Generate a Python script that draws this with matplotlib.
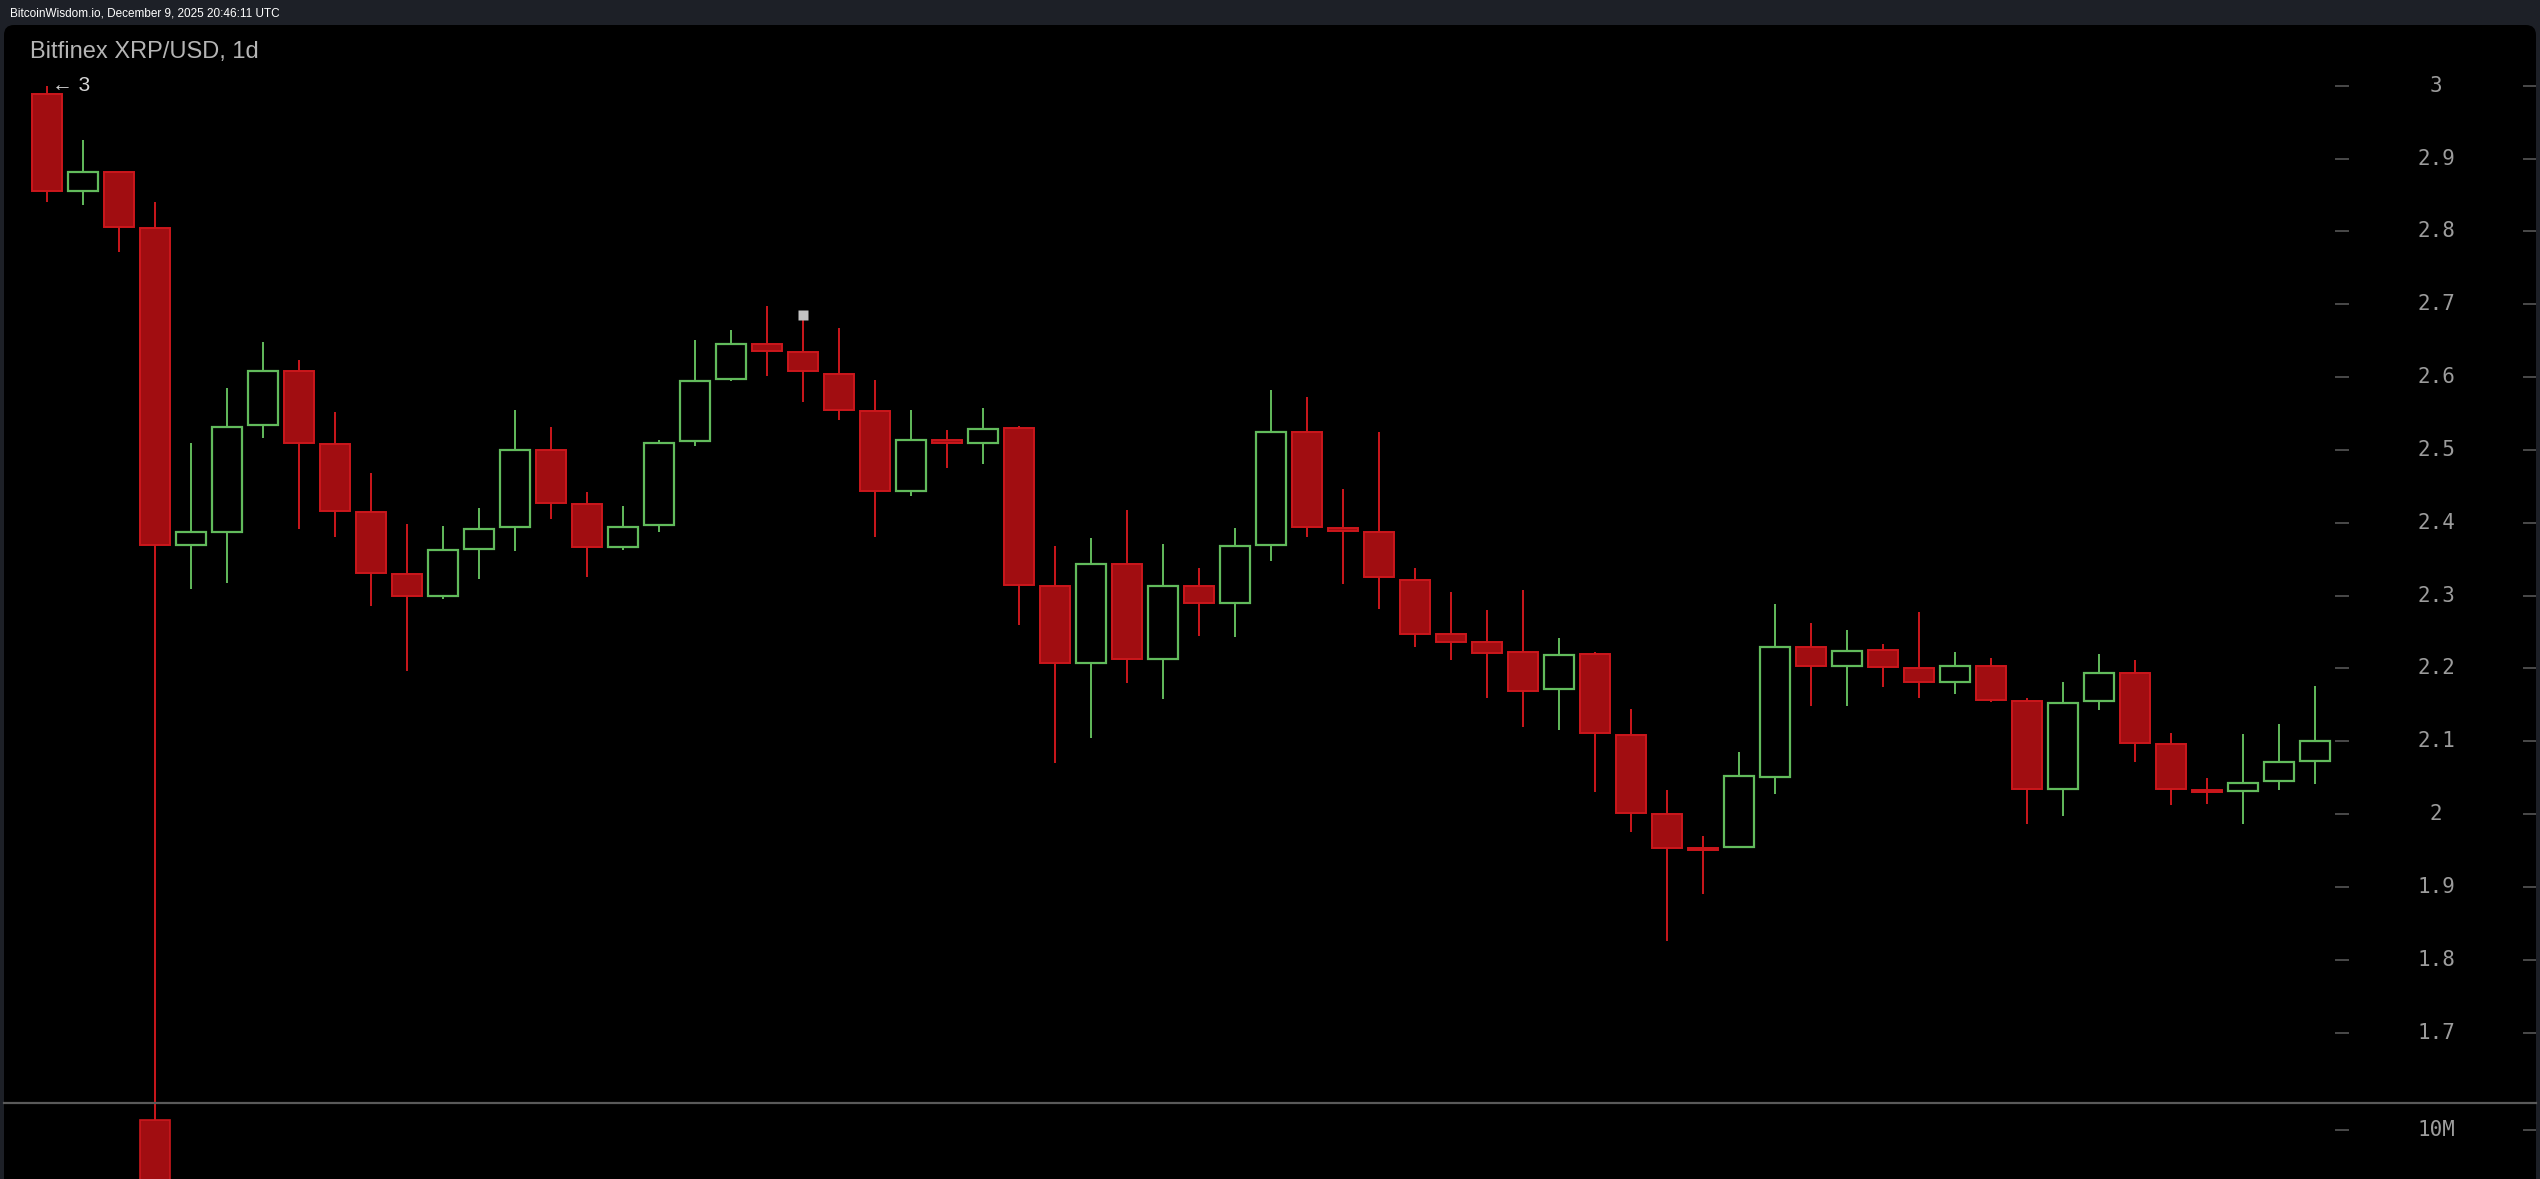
import numpy as np
import matplotlib
matplotlib.use("Agg")
import matplotlib.pyplot as plt
from matplotlib.patches import FancyBboxPatch
from matplotlib.lines import Line2D
from matplotlib.transforms import IdentityTransform, blended_transform_factory

# daily XRP/USD candles, Oct 7 - Dec 9 2025
opens = [2.988, 2.855, 2.881, 2.804, 2.369, 2.388, 2.534, 2.609, 2.508, 2.415,
         2.329, 2.300, 2.364, 2.394, 2.500, 2.426, 2.367, 2.397, 2.512, 2.598,
         2.645, 2.634, 2.604, 2.554, 2.443, 2.514, 2.509, 2.530, 2.313, 2.207,
         2.343, 2.213, 2.313, 2.290, 2.370, 2.524, 2.393, 2.387, 2.321, 2.247,
         2.236, 2.222, 2.172, 2.220, 2.109, 2.000, 1.954, 1.955, 2.051, 2.230,
         2.204, 2.225, 2.200, 2.182, 2.203, 2.156, 2.035, 2.155, 2.194, 2.096,
         2.033, 2.032, 2.046, 2.073]
highs = [2.999, 2.925, 2.882, 2.840, 2.510, 2.585, 2.648, 2.623, 2.552, 2.469,
         2.399, 2.395, 2.420, 2.555, 2.532, 2.442, 2.423, 2.513, 2.651, 2.664,
         2.698, 2.679, 2.668, 2.596, 2.555, 2.527, 2.558, 2.533, 2.368, 2.379,
         2.418, 2.371, 2.338, 2.393, 2.582, 2.572, 2.447, 2.525, 2.338, 2.305,
         2.280, 2.308, 2.242, 2.222, 2.145, 2.033, 1.970, 2.085, 2.288, 2.263,
         2.253, 2.234, 2.278, 2.222, 2.214, 2.159, 2.181, 2.220, 2.211, 2.112,
         2.049, 2.110, 2.124, 2.176]
lows = [2.841, 2.836, 2.772, 1.580, 2.309, 2.317, 2.517, 2.391, 2.380, 2.286,
        2.196, 2.295, 2.323, 2.361, 2.405, 2.325, 2.363, 2.388, 2.506, 2.594,
        2.602, 2.566, 2.541, 2.380, 2.437, 2.475, 2.481, 2.259, 2.070, 2.105,
        2.180, 2.158, 2.245, 2.243, 2.347, 2.381, 2.316, 2.281, 2.229, 2.212,
        2.160, 2.119, 2.116, 2.031, 1.976, 1.826, 1.891, 1.955, 2.028, 2.149,
        2.149, 2.174, 2.160, 2.165, 2.154, 1.987, 1.998, 2.143, 2.072, 2.012,
        2.014, 1.987, 2.033, 2.041]
closes = [2.856, 2.881, 2.806, 2.369, 2.387, 2.532, 2.609, 2.509, 2.416, 2.331,
          2.300, 2.362, 2.391, 2.500, 2.427, 2.367, 2.394, 2.510, 2.595, 2.645,
          2.636, 2.608, 2.555, 2.443, 2.513, 2.509, 2.529, 2.314, 2.207, 2.343,
          2.213, 2.313, 2.290, 2.368, 2.524, 2.394, 2.389, 2.325, 2.248, 2.237,
          2.221, 2.169, 2.219, 2.111, 2.001, 1.954, 1.951, 2.052, 2.230, 2.204,
          2.224, 2.202, 2.182, 2.203, 2.157, 2.034, 2.153, 2.194, 2.098, 2.034,
          2.030, 2.043, 2.071, 2.101]

# only the Oct 10 volume bar reaches into the visible part of the volume pane
vol_index = [3]
vol_values = [10.6e6]

price_ticks = [3.0, 2.9, 2.8, 2.7, 2.6, 2.5, 2.4, 2.3, 2.2, 2.1, 2.0, 1.9, 1.8, 1.7]
price_labels = ["3", "2.9", "2.8", "2.7", "2.6", "2.5", "2.4", "2.3", "2.2", "2.1",
                "2", "1.9", "1.8", "1.7"]
vol_ticks = [10e6]
vol_labels = ["10M"]
max_label = "\u2190 3"
title = "Bitfinex XRP/USD, 1d"
header = "BitcoinWisdom.io, December 9, 2025 20:46:11 UTC"

W, H = 2540, 1179
up_col = "#62bb5c"
dn_fill = "#a10d11"
dn_edge = "#cc171c"
label_col = "#9c9c9c"
dash_col = "#4a4a4a"

fig = plt.figure(figsize=(W / 100, H / 100), dpi=100)
fig.patch.set_facecolor("#1d2027")

# black chart panel with rounded corners, kept behind the axes
panel = FancyBboxPatch((4, -30), 2532, H - 25 + 30, boxstyle="round,pad=0,rounding_size=10",
                       transform=IdentityTransform(), facecolor="black", edgecolor="none",
                       zorder=-5)
fig.add_artist(panel)

fig.text(10 / W, 1 - 14 / H, header, color="white", fontsize=8.5,
         family=["Liberation Sans", "DejaVu Sans"], va="center", ha="left")

ax = fig.add_axes([5 / W, 0, 2531 / W, (H - 25) / H])
ax.set_facecolor("none")
ax.set_xlim(-1.1667, 69.139)
ax.set_ylim(1.4992, 3.0833)
ax.axis("off")

x = np.arange(len(opens))
o = np.array(opens)
c = np.array(closes)
up = c >= o
bw = 0.83

ax.vlines(x[up], np.array(lows)[up], np.array(highs)[up], color=up_col, lw=1.4, zorder=2)
ax.vlines(x[~up], np.array(lows)[~up], np.array(highs)[~up], color=dn_edge, lw=1.4, zorder=2)
bottoms = np.minimum(o, c)
heights = np.maximum(np.abs(c - o), 0.003)
ax.bar(x[up], heights[up], bw, bottoms[up], facecolor="black", edgecolor=up_col, lw=1.6, zorder=3)
ax.bar(x[~up], heights[~up], bw, bottoms[~up], facecolor=dn_fill, edgecolor=dn_edge, lw=1.4, zorder=3)

# small marker above the top wick
ax.plot(21, 2.685, marker="s", ms=7, color="#c4c4c4", mec="none", zorder=4)

ax.text(0.13, 3.0, max_label, color="#d6d6d6", fontsize=15,
        family=["Liberation Sans", "DejaVu Sans"], va="center", ha="left")
fig.text(30 / W, 1 - 52 / H, title, color="#b5b5b5", fontsize=17,
         family="Liberation Sans", va="center", ha="left")

tr = blended_transform_factory(ax.transAxes, ax.transData)
for p, lab in zip(price_ticks, price_labels):
    ax.text(0.9605, p, lab, transform=tr, color=label_col, fontsize=15,
            family="DejaVu Sans Mono", ha="center", va="center")
    ax.plot([0.921, 0.9257], [p, p], transform=tr, color=dash_col, lw=1.4)
    ax.plot([0.9953, 1.0], [p, p], transform=tr, color=dash_col, lw=1.4)

# volume pane
vax = fig.add_axes([5 / W, 0, 2531 / W, 76 / H])
vax.set_facecolor("none")
vax.set_xlim(-1.1667, 69.139)
vax.set_ylim(7.12e6, 11.59e6)
vax.axis("off")
vax.bar(vol_index, vol_values, bw, facecolor=dn_fill, edgecolor=dn_edge, lw=1.2)
vtr = blended_transform_factory(vax.transAxes, vax.transData)
for v, lab in zip(vol_ticks, vol_labels):
    vax.text(0.9605, v, lab, transform=vtr, color=label_col, fontsize=15,
             family="DejaVu Sans Mono", ha="center", va="center")
    vax.plot([0.921, 0.9257], [v, v], transform=vtr, color=dash_col, lw=1.4)
    vax.plot([0.9953, 1.0], [v, v], transform=vtr, color=dash_col, lw=1.4)

fig.add_artist(Line2D([4, 2536], [76, 76], transform=IdentityTransform(),
                      color="#5a5a5a", lw=1.6))

fig.savefig("out.png", dpi=100, facecolor=fig.get_facecolor())
